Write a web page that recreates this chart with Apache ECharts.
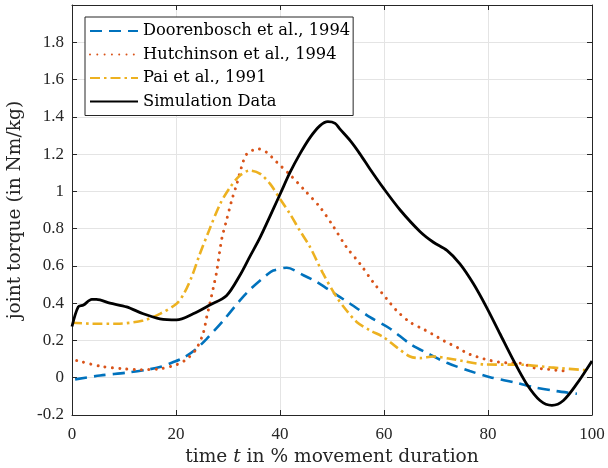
<!DOCTYPE html>
<html><head><meta charset="utf-8">
<script src="https://cdn.jsdelivr.net/npm/echarts@6/dist/echarts.min.js"></script>
<style>html,body{margin:0;padding:0;background:#fff}#c{width:608px;height:468px}</style>
</head><body><div id="c"></div>
<script>
// ---- data ----
const seriesNames = ['Doorenbosch et al., 1994', 'Hutchinson et al., 1994', 'Pai et al., 1991', 'Simulation Data'];

const doorT = [0.6,5.4,10.5,14.4,16.9,19.5,21.4,23.7,25.9,29.1,32.3,34.5,37.4,38.7,41.3,44.5,47.1,49.6,53.5,57.3,61.2,65,68.8,72.1,76.5,80.4,84.9,88.7,93.2,97.1];
const doorV = [-0.009,0.012,0.027,0.043,0.057,0.084,0.107,0.15,0.209,0.307,0.415,0.48,0.55,0.575,0.59,0.55,0.513,0.468,0.397,0.325,0.263,0.182,0.125,0.08,0.036,0.003,-0.024,-0.05,-0.072,-0.086];

const hutchT = [0.9,5.4,9.9,13.1,16.9,20.1,21.7,23.7,25.2,25.9,26.5,27.2,27.8,28.8,29.7,30.7,31.7,32.6,33.6,35.8,37.4,39.4,41.9,44.8,47.7,50.3,52.8,55.4,57.9,60.5,62.4,65,67.6,69.2,71.7,73,74.6,75.9,77.5,79.1,80.4,82,83.6,86.2,89,90.6,92.3,93.5,95.1];
const hutchV = [0.093,0.062,0.048,0.043,0.048,0.07,0.093,0.146,0.236,0.325,0.397,0.486,0.566,0.745,0.843,0.95,1.04,1.13,1.2,1.228,1.21,1.156,1.09,1.004,0.915,0.81,0.70,0.611,0.513,0.424,0.361,0.298,0.26,0.236,0.195,0.177,0.155,0.132,0.116,0.102,0.093,0.084,0.08,0.078,0.052,0.048,0.043,0.039,0.036];

const paiT = [0,4,8.6,13.7,16.9,20.1,21.5,23,24.6,26.5,28.5,30.4,32.3,34.2,36.2,38.1,40,41.9,43.8,45.8,48.3,50.9,52.8,54.8,57.3,59.9,62.4,65,66.9,69.5,72.7,79.7,86.2,92.6,99.5];
const paiV = [0.295,0.29,0.29,0.307,0.343,0.397,0.45,0.54,0.665,0.80,0.933,1.022,1.085,1.112,1.094,1.04,0.96,0.88,0.79,0.70,0.558,0.432,0.361,0.298,0.254,0.218,0.164,0.114,0.105,0.114,0.102,0.071,0.07,0.054,0.039];

const simT = [0,1.2,2.2,3.8,4.7,7.3,10.5,13.7,16.9,20.1,23.3,26.5,29.7,32.3,34.2,36.2,40.1,41.9,43.8,45.8,47.7,49.2,50.6,51.5,53.5,55.4,57.3,60,63.1,66.9,69.5,72.1,74.6,77.2,79.7,82.3,84.9,87.4,90,92.3,94.5,97.1,100];
const simV = [0.275,0.38,0.39,0.42,0.42,0.40,0.38,0.343,0.316,0.31,0.343,0.39,0.44,0.55,0.65,0.754,0.99,1.1,1.2,1.29,1.353,1.374,1.365,1.335,1.272,1.2,1.12,1.013,0.9,0.785,0.727,0.683,0.611,0.504,0.379,0.236,0.093,-0.032,-0.122,-0.148,-0.122,-0.032,0.09];

const xMin = 0, xMax = 100, xStep = 20;
const yMin = -0.2, yMax = 2.0, yStep = 0.2;

// ---- chart ----
const pairs = (t, v) => t.map((x, i) => [x, v[i]]);
const tickFont = 'Liberation Serif';
const textFont = 'DejaVu Serif';
const axisCol = '#262626';
const gridCol = '#e4e4e4';

const chart = echarts.init(document.getElementById('c'), null, {renderer: 'canvas'});

const baseAxis = {
  axisLine: {show: true, onZero: false, lineStyle: {color: axisCol, width: 1}},
  axisTick: {show: true, inside: true, length: 5, lineStyle: {color: axisCol, width: 1}},
};

function mkSeries(name, t, v, color, lineStyle) {
  return {
    name, type: 'line', data: pairs(t, v), showSymbol: false, symbol: 'circle', symbolSize: 0,
    smooth: 0.3, animation: false,
    itemStyle: {color},
    lineStyle: Object.assign({color, width: 2.6}, lineStyle)
  };
}

chart.setOption({
  animation: false,
  backgroundColor: '#fff',
  grid: {left: 72, right: 16, top: 5, bottom: 53, containLabel: false, outerBoundsMode: 'none'},
  legend: {
    orient: 'vertical', left: 85, top: 17,
    data: seriesNames,
    padding: [4, 3, 4, 4],
    itemWidth: 48, itemHeight: 14, itemGap: 3.5, itemTextGap: 5,
    itemStyle: {opacity: 0},
    borderColor: axisCol, borderWidth: 1, borderRadius: 0,
    backgroundColor: '#fff',
    textStyle: {fontFamily: textFont, fontSize: 16.3, color: '#000', lineHeight: 20}
  },
  xAxis: [
    Object.assign({}, baseAxis, {
      type: 'value', min: xMin, max: xMax, interval: xStep, position: 'bottom',
      name: 'time {i|t} in % movement duration', nameLocation: 'middle', nameGap: 33,
      nameTextStyle: {fontFamily: textFont, fontSize: 18.6, color: '#262626',
        rich: {i: {fontFamily: textFont, fontStyle: 'italic', fontSize: 18.6, color: '#262626'}}},
      axisLabel: {fontFamily: tickFont, fontSize: 17, color: '#262626', margin: 11},
      splitLine: {show: true, lineStyle: {color: gridCol, width: 1}}
    }),
    Object.assign({}, baseAxis, {
      type: 'value', min: xMin, max: xMax, interval: xStep, position: 'top',
      axisLabel: {show: false}, splitLine: {show: false}
    })
  ],
  yAxis: [
    Object.assign({}, baseAxis, {
      type: 'value', min: yMin, max: yMax, interval: yStep, position: 'left',
      name: 'joint torque (in Nm/kg)', nameLocation: 'middle', nameGap: 47,
      nameTextStyle: {fontFamily: textFont, fontSize: 18.6, color: '#262626'},
      axisLabel: {fontFamily: tickFont, fontSize: 17, color: '#262626', margin: 8,
        formatter: v => (Math.abs(v - yMax) < 1e-9 ? '' : String(Number(v.toFixed(1))))},
      splitLine: {show: true, lineStyle: {color: gridCol, width: 1}}
    }),
    Object.assign({}, baseAxis, {
      type: 'value', min: yMin, max: yMax, interval: yStep, position: 'right',
      axisLabel: {show: false}, splitLine: {show: false}
    })
  ],
  series: [
    mkSeries(seriesNames[0], doorT, doorV, '#0072BD', {type: [12, 7], cap: 'butt'}),
    mkSeries(seriesNames[1], hutchT, hutchV, '#D95319', {type: [0.001, 7.3], cap: 'round', width: 3}),
    mkSeries(seriesNames[2], paiT, paiV, '#EDB120', {type: [10, 4, 2.5, 4], cap: 'butt'}),
    mkSeries(seriesNames[3], simT, simV, '#000000', {type: 'solid', width: 2.8})
  ]
});
</script>
</body></html>
